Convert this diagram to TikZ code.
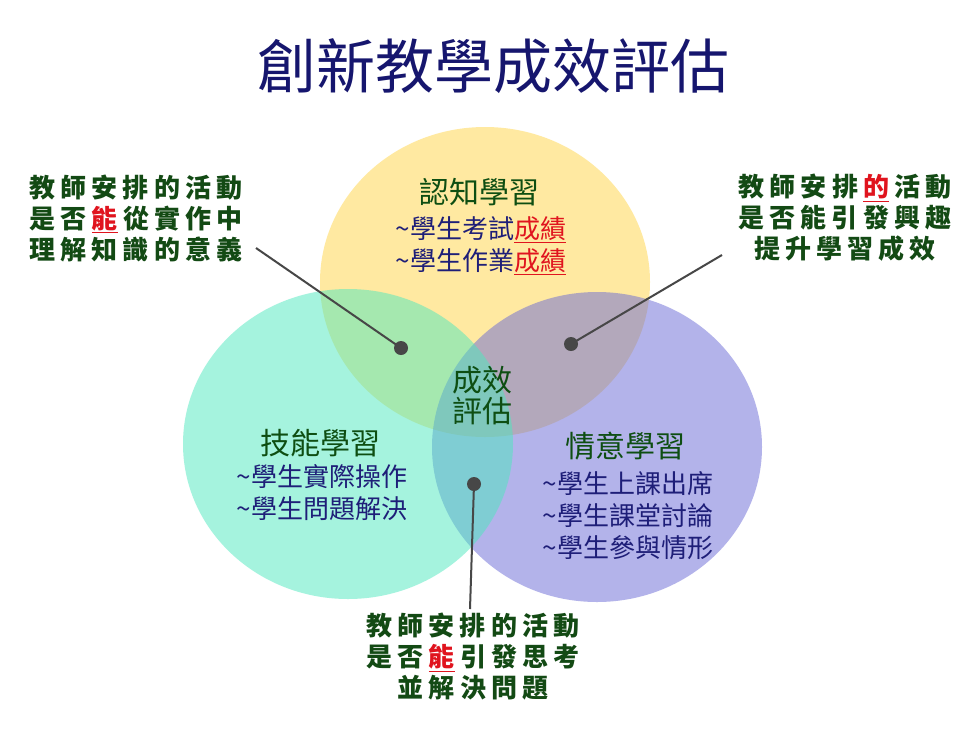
\documentclass[tikz,border=0pt]{standalone}
\usepackage{fontspec}
\setmainfont{Noto Sans CJK TC}
\usetikzlibrary{positioning, shapes.geometric}
\definecolor{titleNavy}{HTML}{16166E}
\definecolor{labelGreen}{HTML}{0E4E12}
\definecolor{itemNavy}{HTML}{1E1E78}
\definecolor{markRed}{HTML}{E0141E}
\definecolor{calloutGreen}{HTML}{134A14}
\definecolor{lineGray}{HTML}{474747}
\definecolor{cogYellow}{HTML}{FFD545}
\definecolor{skillTeal}{HTML}{4DE8BE}
\definecolor{affectPurple}{HTML}{6868D6}
\newcommand{\hit}[1]{\textcolor{markRed}{\underline{#1}}}
\newcommand{\hitsp}[1]{\kern0.2em\hit{#1}\kern0.2em}

\begin{document}
\begin{tikzpicture}[x=1pt, y=-1pt,
    venn/.style={ellipse, fill=#1, fill opacity=0.5, draw=none,
                 minimum width=330pt, minimum height=310pt, inner sep=0pt},
    head/.style={font=\fontsize{30}{31}\selectfont\color{labelGreen}, align=center, inner sep=0pt},
    items/.style={font=\fontsize{26}{32}\selectfont\color{itemNavy}, align=center, inner sep=0pt},
    callout/.style={font=\fontsize{26}{31}\selectfont\bfseries\addfontfeature{LetterSpace=20}\color{calloutGreen},
                    align=center, inner sep=0pt},
    dot/.style={circle, fill=lineGray, inner sep=0pt, minimum size=14pt},
    pointer/.style={draw=lineGray, line width=2pt},
  ]
    \useasboundingbox[fill=white] (0,0) rectangle (972,729);

    \node[font=\fontsize{59}{60}\selectfont\color{titleNavy}, inner sep=0pt] (title) at (493, 66)
      {創新教學成效評估};

    \node[venn=cogYellow] (cog) at (485, 282) {};
    \node[venn=affectPurple] (affect) at (597, 447) {};
    \node[venn=skillTeal] (skill) at (348, 444) {};

    \node[head] (cogHead) at (479, 192) {認知學習};
    \node[items] (cogItems) at (481, 246)
      {\textasciitilde 學生考試\hit{成績}\\\textasciitilde 學生作業\hit{成績}};
    \node[head] (skillHead) at (320, 443) {技能學習};
    \node[items] (skillItems) at (322, 493)
      {\textasciitilde 學生實際操作\\\textasciitilde 學生問題解決};
    \node[head] (affectHead) at (625, 446) {情意學習};
    \node[items] (affectItems) at (628, 516)
      {\textasciitilde 學生上課出席\\\textasciitilde 學生課堂討論\\\textasciitilde 學生參與情形};
    \node[head] (core) at (482, 396) {成效\\評估};

    \node[callout] (callL) at (136, 218)
      {教師安排的活動\\是否\hitsp{能}從實作中\\理解知識的意義};
    \node[callout] (callR) at (845, 218)
      {教師安排\hitsp{的}活動\\是否能引發興趣\\提升學習成效};
    \node[callout] (callB) at (473, 657)
      {教師安排的活動\\是否\hitsp{能}引發思考\\並解決問題};

    \node[dot] (dotL) at (401, 348) {};
    \node[dot] (dotR) at (571, 344) {};
    \node[dot] (dotB) at (474, 484) {};
    \coordinate (tipL) at (256, 248);
    \coordinate (tipR) at (722, 255);
    \coordinate (tipB) at (470, 609);

    \draw[pointer] (tipL) -- (dotL.center);
    \draw[pointer] (tipR) -- (dotR.center);
    \draw[pointer] (tipB) -- (dotB.center);
  \end{tikzpicture}
\end{document}
